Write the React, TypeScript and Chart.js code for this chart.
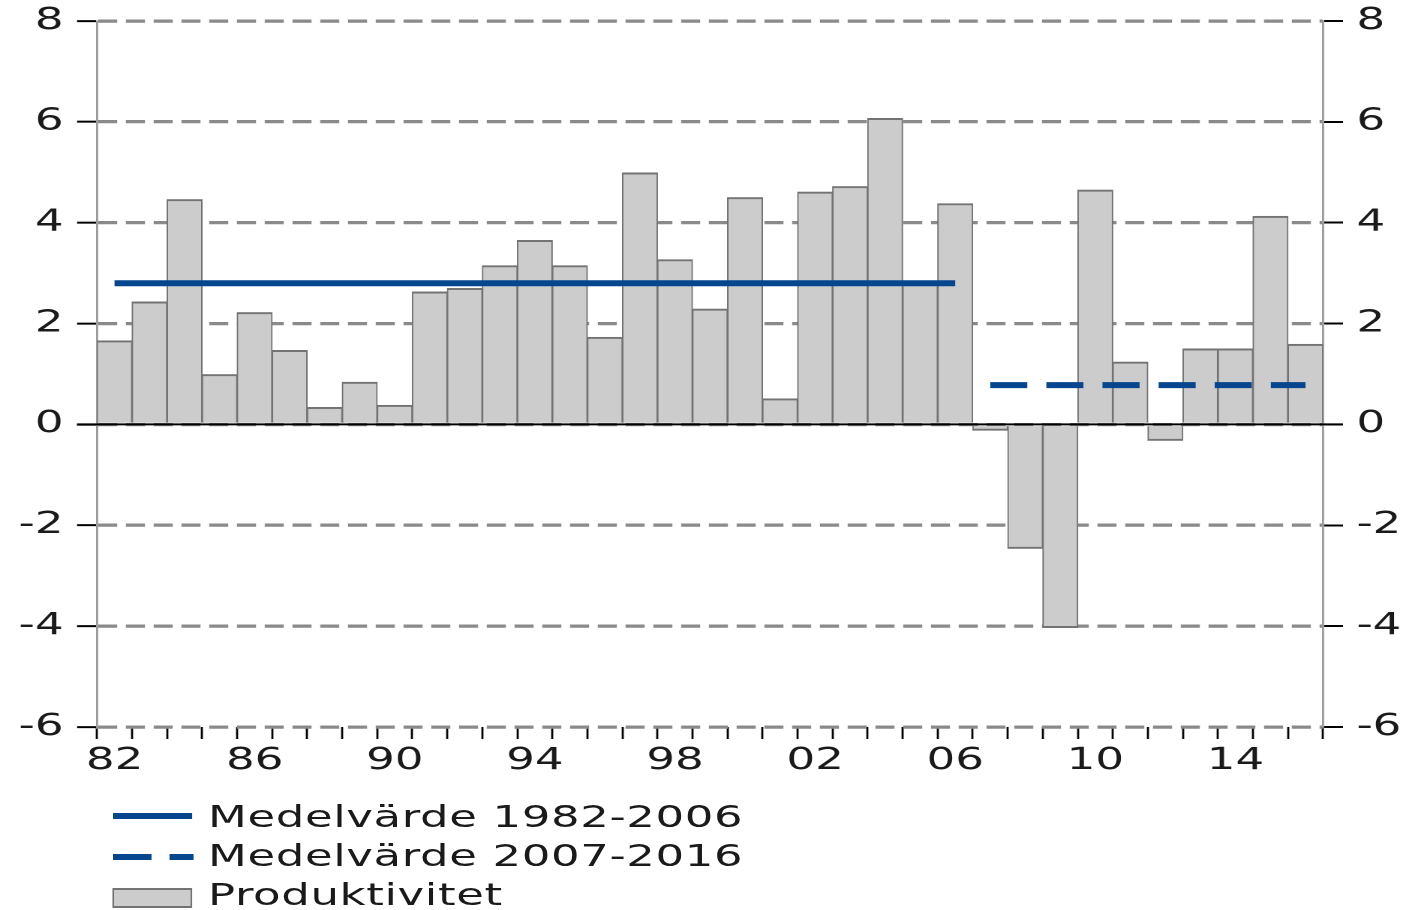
import React, { useEffect, useRef } from 'react';
import { Chart, registerables } from 'chart.js';

Chart.register(...registerables);

// ---- data ----
const categories = [
  '82', '83', '84', '85', '86', '87', '88', '89', '90', '91',
  '92', '93', '94', '95', '96', '97', '98', '99', '00', '01',
  '02', '03', '04', '05', '06', '07', '08', '09', '10', '11',
  '12', '13', '14', '15', '16',
];
const productivity = [
  1.66, 2.43, 4.46, 0.99, 2.22, 1.47, 0.34, 0.84, 0.38, 2.63,
  2.70, 3.15, 3.65, 3.15, 1.73, 4.99, 3.27, 2.29, 4.50, 0.51,
  4.61, 4.72, 6.07, 2.80, 4.38, -0.12, -2.46, -4.03, 4.65, 1.24,
  -0.32, 1.50, 1.50, 4.13, 1.59,
];
const xTickLabels = ['82', '86', '90', '94', '98', '02', '06', '10', '14'];
const yTickValues = [-6, -4, -2, 0, 2, 4, 6, 8];
const meanEarly = 2.8; // Medelvärde 1982-2006
const meanLate = 0.78; // Medelvärde 2007-2016
const earlyPeriod = ['82', '06'];
const latePeriod = ['07', '16'];
const legendLabels = ['Medelvärde 1982-2006', 'Medelvärde 2007-2016', 'Produktivitet'];

// ---- derived series ----
const idxOf = (c: string) => categories.indexOf(c);
const meanEarlySeries = categories.map((c, i) =>
  i >= idxOf(earlyPeriod[0]) && i <= idxOf(earlyPeriod[1]) ? meanEarly : null
);
const meanLateSeries = categories.map((c, i) =>
  i >= idxOf(latePeriod[0]) && i <= idxOf(latePeriod[1]) ? meanLate : null
);

// ---- layout / style ----
const W = 939;
const H = 910;
const SX = 1409 / W;
const BLUE = '#05468f';
const FONT = 'DejaVu Sans';
const TEXT = '#1a1a1a';

const zeroLinePlugin = {
  id: 'zeroLine',
  afterDatasetsDraw(chart: any) {
    const { ctx, chartArea, scales } = chart;
    const y = scales.y.getPixelForValue(0);
    ctx.save();
    ctx.strokeStyle = '#000';
    ctx.lineWidth = 2;
    ctx.beginPath();
    ctx.moveTo(chartArea.left - 13.3, y);
    ctx.lineTo(chartArea.right + 13.3, y);
    ctx.stroke();
    ctx.restore();
  },
};

export default function App() {
  const ref = useRef<HTMLCanvasElement>(null);

  useEffect(() => {
    const prevMargin = document.body.style.margin;
    document.body.style.margin = '0';
    const yTickOpts = {
      stepSize: 2,
      font: { family: FONT, size: 30 },
      color: TEXT,
      padding: 9,
      callback: (v: any) => (yTickValues.includes(Number(v)) ? String(v) : ''),
    };
    const chart = new Chart(ref.current as HTMLCanvasElement, {
      type: 'bar',
      data: {
        labels: categories,
        datasets: [
          {
            type: 'line',
            label: legendLabels[0],
            data: meanEarlySeries,
            borderColor: BLUE,
            borderWidth: 6,
            pointRadius: 0,
            fill: false,
            spanGaps: false,
            order: 0,
          } as any,
          {
            type: 'line',
            label: legendLabels[1],
            data: meanLateSeries,
            borderColor: BLUE,
            borderWidth: 6,
            borderDash: [24.7, 12.7],
            pointRadius: 0,
            fill: false,
            spanGaps: false,
            order: 0,
          } as any,
          {
            type: 'bar',
            label: legendLabels[2],
            data: productivity,
            backgroundColor: '#cccccc',
            borderColor: '#737373',
            borderWidth: { top: 2, bottom: 2, left: 1, right: 1 },
            barPercentage: 1,
            categoryPercentage: 1,
            order: 1,
          } as any,
        ],
      },
      options: {
        responsive: false,
        animation: false,
        devicePixelRatio: 2,
        layout: { padding: { top: 21, bottom: 123, left: 0, right: 0 } },
        plugins: {
          legend: { display: false },
          tooltip: { enabled: false },
        },
        scales: {
          x: {
            type: 'category',
            offset: true,
            grid: {
              offset: true,
              display: true,
              drawOnChartArea: false,
              drawTicks: true,
              tickLength: 12,
              tickColor: '#000',
              tickWidth: 1.4,
            },
            border: { display: false },
            ticks: {
              autoSkip: false,
              maxRotation: 0,
              minRotation: 0,
              font: { family: FONT, size: 30 },
              color: TEXT,
              padding: 4,
              callback: function (this: any, val: any) {
                const lbl = this.getLabelForValue(val);
                return xTickLabels.includes(lbl) ? lbl : '';
              },
            },
            afterFit: (s: any) => {
              s.height = 60;
              s.paddingLeft = 0;
              s.paddingRight = 0;
            },
          },
          y: {
            type: 'linear',
            position: 'left',
            min: -6,
            max: 8,
            ticks: yTickOpts,
            grid: {
              color: '#8a8a8a',
              lineWidth: 3.3,
              drawTicks: true,
              tickColor: '#000',
              tickLength: 13.3,
              tickWidth: 2,
            },
            border: { display: true, color: '#9a9a9a', width: 1.4, dash: [12.7, 5.8] },
            afterFit: (s: any) => {
              s.width = 97 / SX;
              s.paddingTop = 0;
              s.paddingBottom = 0;
            },
          },
          y2: {
            type: 'linear',
            position: 'right',
            min: -6,
            max: 8,
            ticks: yTickOpts,
            grid: {
              drawOnChartArea: false,
              drawTicks: true,
              tickColor: '#000',
              tickLength: 13.3,
              tickWidth: 2,
            },
            border: { display: true, color: '#9a9a9a', width: 1.4 },
            afterFit: (s: any) => {
              s.width = (1409 - 1323) / SX;
              s.paddingTop = 0;
              s.paddingBottom = 0;
            },
          },
        },
      } as any,
      plugins: [zeroLinePlugin],
    });
    return () => {
      chart.destroy();
      document.body.style.margin = prevMargin;
    };
  }, []);

  const textStyle: React.CSSProperties = {
    position: 'absolute',
    left: 208 / SX,
    fontFamily: FONT,
    fontSize: 30,
    lineHeight: '30px',
    letterSpacing: '0.4px',
    color: TEXT,
    whiteSpace: 'nowrap',
  };
  const lx = 112 / SX;

  return (
    <div
      style={{
        position: 'absolute',
        left: 0,
        top: 0,
        width: W,
        height: H,
        background: '#fff',
        transform: `scaleX(${SX})`,
        transformOrigin: '0 0',
        overflow: 'hidden',
      }}
    >
      <canvas ref={ref} width={W} height={H} style={{ display: 'block' }} />
      {/* legend */}
      <div style={{ position: 'absolute', left: lx, top: 813, width: 80 / SX, height: 6, background: BLUE }} />
      <div style={{ ...textStyle, top: 801.6 }}>{legendLabels[0]}</div>
      <div style={{ position: 'absolute', left: lx, top: 854, width: 39 / SX, height: 6, background: BLUE }} />
      <div style={{ position: 'absolute', left: 170 / SX, top: 854, width: 23 / SX, height: 6, background: BLUE }} />
      <div style={{ ...textStyle, top: 840.6 }}>{legendLabels[1]}</div>
      <div
        style={{
          position: 'absolute',
          left: lx,
          top: 888,
          width: 80 / SX,
          height: 20,
          boxSizing: 'border-box',
          background: '#cccccc',
          borderTop: '2px solid #737373',
          borderBottom: '2px solid #737373',
          borderLeft: `${2 / SX}px solid #737373`,
          borderRight: `${2 / SX}px solid #737373`,
        }}
      />
      <div style={{ ...textStyle, top: 879.6 }}>{legendLabels[2]}</div>
    </div>
  );
}
